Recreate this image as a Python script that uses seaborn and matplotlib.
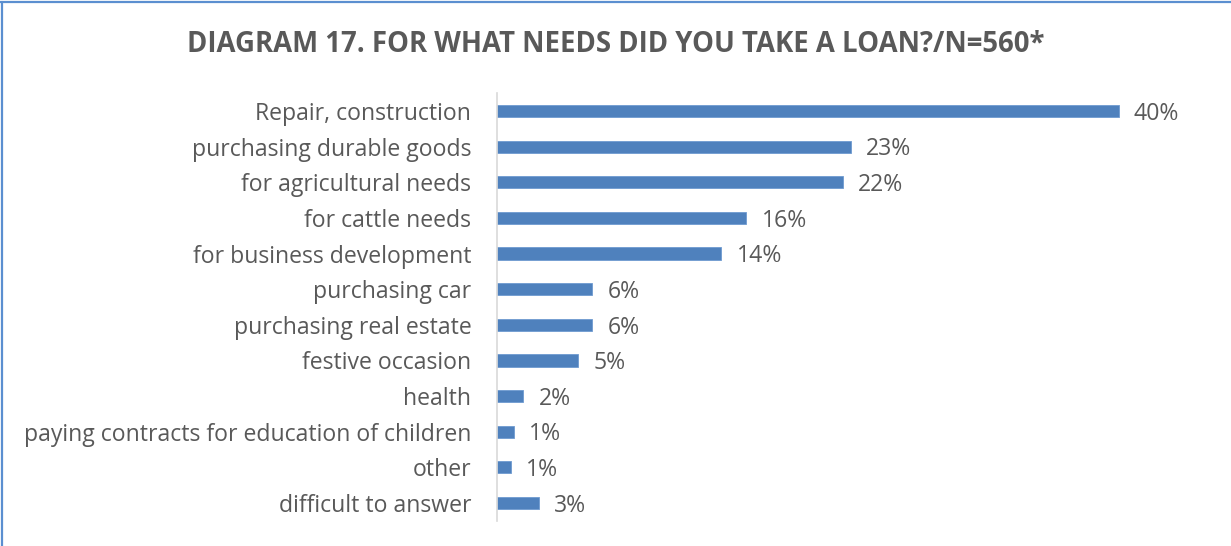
import matplotlib
matplotlib.use("Agg")
import matplotlib.pyplot as plt
from matplotlib.lines import Line2D
import seaborn as sns
import pandas as pd

# Survey answers: purpose of the loan, share of respondents (%)
categories = [
    "Repair, construction",
    "purchasing durable goods",
    "for agricultural needs",
    "for cattle needs",
    "for business development",
    "purchasing car",
    "purchasing real estate",
    "festive occasion",
    "health",
    "paying contracts for education of children",
    "other",
    "difficult to answer",
]
shares = [39.9, 22.7, 22.2, 16.0, 14.4, 6.1, 6.1, 5.2, 1.7, 1.1, 0.9, 2.7]
title = "DIAGRAM 17. FOR WHAT NEEDS DID YOU TAKE A LOAN?/N=560*"

df = pd.DataFrame({"purpose": categories, "share": shares})

sns.set_theme(style="white")
plt.rcParams["font.family"] = ["Open Sans", "DejaVu Sans"]

text_color = "#595959"
bar_color = "#4F81BD"

fig = plt.figure(figsize=(12.31, 5.46), dpi=100)
ax = fig.add_axes([497 / 1231, 25.2 / 546, 701 / 1231, 427.6 / 546])

sns.barplot(data=df, x="share", y="purpose", orient="h", color=bar_color,
            width=0.34, saturation=1, ax=ax, edgecolor="#6F9AD0", linewidth=0.6)

ax.set_xlim(0, 45)
ax.set_ylim(len(categories) - 0.5, -0.5)
ax.set_xlabel("")
ax.set_ylabel("")
ax.set_xticks([])

for name in ["top", "right", "bottom"]:
    ax.spines[name].set_visible(False)
ax.spines["left"].set_color("#D9D9D9")
ax.spines["left"].set_linewidth(1.2)

ax.tick_params(axis="y", length=0, pad=18.5, labelsize=16.6, labelcolor=text_color)

labels = ax.bar_label(ax.containers[0], labels=[f"{v:.0f}%" for v in shares],
                      padding=11, fontsize=16.6, color=text_color)
for t in labels:
    t.set_va("center")
    t.set_y(-2)

fig.text(616 / 1231, 1 - 45 / 546, title, ha="center", va="center",
         fontsize=19.8, fontweight="bold", color=text_color)

# Chart frame on the left and top edges
frame = "#5B8FD0"
fig.add_artist(Line2D([1.5 / 1231, 1.5 / 1231], [0, 1 - 1.5 / 546],
                      transform=fig.transFigure, color=frame, linewidth=1.6))
fig.add_artist(Line2D([0, 1], [1 - 1.5 / 546, 1 - 1.5 / 546],
                      transform=fig.transFigure, color=frame, linewidth=1.6))

fig.savefig("out.png", dpi=100, facecolor="white")
